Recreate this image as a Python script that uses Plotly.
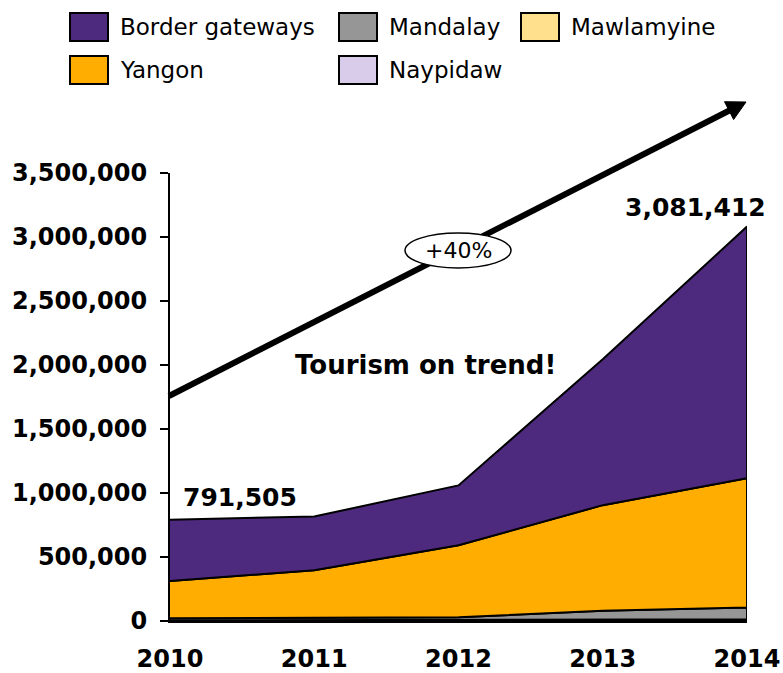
import plotly.graph_objects as go
import math

# ---------------- data ----------------
years = ["2010", "2011", "2012", "2013", "2014"]
naypidaw = [3000, 4000, 5000, 8000, 10000]
mawlamyine = [1000, 1500, 2000, 3000, 4000]
mandalay = [18000, 19000, 22000, 70000, 92000]
yangon = [291000, 372500, 563000, 824000, 1010000]
border_gateways = [478505, 419369, 466995, 1139307, 1965412]
y_ticks = [0, 500000, 1000000, 1500000, 2000000, 2500000, 3000000, 3500000]
growth_label = "+40%"
headline = "Tourism on trend!"

# stacking order bottom -> top
stack = [
    ("Naypidaw", naypidaw, "#D9CCEB"),
    ("Mawlamyine", mawlamyine, "#FFE08C"),
    ("Mandalay", mandalay, "#969696"),
    ("Yangon", yangon, "#FFAD00"),
    ("Border gateways", border_gateways, "#4E2A7E"),
]

W, H = 783, 673
L, R, T, B = 170, 36, 173, 52
PW, PH = W - L - R, H - T - B


def px(xp, yp):
    return (xp - L) / PW, (H - B - yp) / PH


xs = list(range(len(years)))
fig = go.Figure()
base = [0] * len(years)
for name, vals, col in stack:
    top = [b + v for b, v in zip(base, vals)]
    fig.add_trace(go.Scatter(
        x=xs + xs[::-1], y=top + base[::-1], fill="toself", fillcolor=col,
        mode="lines", line=dict(color="black", width=2), name=name,
        showlegend=False, hoverinfo="skip"))
    base = top
totals = base

shapes = []
annotations = []

# ---------- manual legend ----------
legend_layout = [
    ("Border gateways", 70, 13), ("Mandalay", 339, 13), ("Mawlamyine", 521, 13),
    ("Yangon", 70, 56), ("Naypidaw", 339, 56),
]
colors = {n: c for n, _, c in stack}
sw_w, sw_h = 38, 28
for name, x0, y0 in legend_layout:
    a0 = px(x0, y0)
    a1 = px(x0 + sw_w, y0 + sw_h)
    shapes.append(dict(type="rect", xref="paper", yref="paper", x0=a0[0], y0=a1[1],
                       x1=a1[0], y1=a0[1], fillcolor=colors[name],
                       line=dict(color="black", width=2)))
    t = px(x0 + sw_w + 10, y0 + sw_h / 2)
    annotations.append(dict(text=name, xref="paper", yref="paper", x=t[0], y=t[1],
                            xanchor="left", yanchor="middle", showarrow=False,
                            font=dict(family="DejaVu Sans", size=23, color="black")))

# ---------- trend arrow ----------
tail = (169, 396)
tip = (746, 102)
dx, dy = tip[0] - tail[0], tip[1] - tail[1]
ln = math.hypot(dx, dy)
ux, uy = dx / ln, dy / ln
nx, ny = -uy, ux
hl, hw = 19, 10
bx, by = tip[0] - hl * ux, tip[1] - hl * uy
p_tail = px(*tail)
p_base = px(bx + 2 * ux, by + 2 * uy)
shapes.append(dict(type="line", xref="paper", yref="paper", x0=p_tail[0], y0=p_tail[1],
                   x1=p_base[0], y1=p_base[1], line=dict(color="black", width=6)))
c1 = px(bx + hw * nx, by + hw * ny)
c2 = px(bx - hw * nx, by - hw * ny)
pt = px(*tip)
shapes.append(dict(type="path", xref="paper", yref="paper",
                   path=f"M {pt[0]} {pt[1]} L {c1[0]} {c1[1]} L {c2[0]} {c2[1]} Z",
                   fillcolor="black", line=dict(color="black", width=1)))

# ellipse label
e0 = px(405, 233)
e1 = px(511, 268)
shapes.append(dict(type="circle", xref="paper", yref="paper", x0=e0[0], y0=e1[1],
                   x1=e1[0], y1=e0[1], fillcolor="white", line=dict(color="black", width=1.5)))
ec = px(458, 250)
annotations.append(dict(text=growth_label, xref="paper", yref="paper", x=ec[0], y=ec[1],
                        xanchor="center", yanchor="middle", showarrow=False,
                        font=dict(family="DejaVu Sans", size=22, color="black")))

hc = px(425, 365)
annotations.append(dict(text="<b>" + headline + "</b>", xref="paper", yref="paper",
                        x=hc[0], y=hc[1], xanchor="center", yanchor="middle",
                        showarrow=False,
                        font=dict(family="DejaVu Sans", size=26, color="black")))

# data labels
annotations.append(dict(text=f"<b>{totals[0]:,}</b>", x=xs[0], y=totals[0], xref="x", yref="y",
                        xanchor="left", yanchor="middle", xshift=11, yshift=22,
                        showarrow=False,
                        font=dict(family="DejaVu Sans", size=25, color="black")))
annotations.append(dict(text=f"<b>{totals[-1]:,}</b>", x=xs[-1], y=totals[-1], xref="x", yref="y",
                        xanchor="center", yanchor="middle", xshift=-52, yshift=19,
                        showarrow=False,
                        font=dict(family="DejaVu Sans", size=25, color="black")))

fig.update_layout(
    width=W, height=H, margin=dict(l=L, r=R, t=T, b=B, autoexpand=False),
    plot_bgcolor="white", paper_bgcolor="white",
    shapes=shapes, annotations=annotations, showlegend=False,
    xaxis=dict(range=[0, 4], tickvals=xs, ticktext=years, showline=True,
               linecolor="black", linewidth=2, showgrid=False, zeroline=False,
               ticks="", ticklabelstandoff=15, automargin=False,
               tickfont=dict(family="DejaVu Sans", size=24, color="black", weight="bold")),
    yaxis=dict(range=[0, 3500000], tickvals=y_ticks, tickformat=",d", showline=True,
               linecolor="black", linewidth=2, showgrid=False, zeroline=False,
               ticks="outside", ticklen=8, tickwidth=2, tickcolor="black",
               ticklabelstandoff=8, automargin=False,
               tickfont=dict(family="DejaVu Sans", size=24, color="black", weight="bold")),
)

fig.write_html("out.html")
